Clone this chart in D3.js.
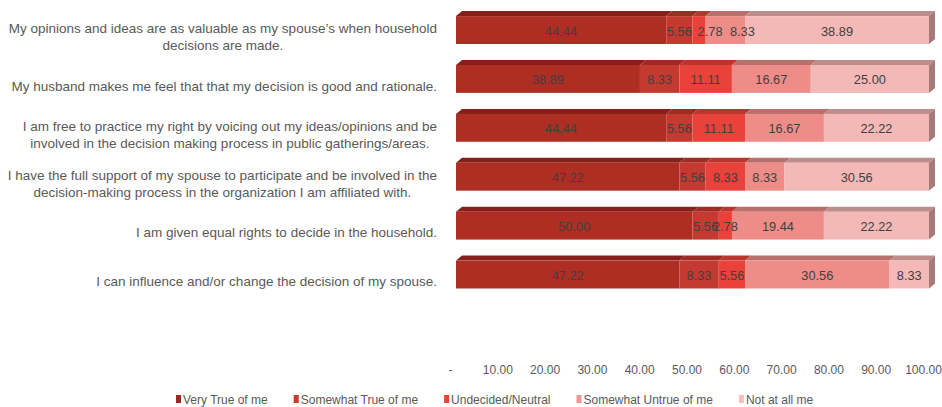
<!DOCTYPE html>
<html>
<head>
<meta charset="utf-8">
<script src="https://cdn.jsdelivr.net/npm/d3@7"></script>
<style>
  html, body { margin: 0; padding: 0; background: #fff; }
  svg { display: block; font-family: "Liberation Sans", Arial, sans-serif; }
</style>
</head>
<body>
<svg id="chart" width="942" height="407"></svg>
<script>
// Survey statements (each entry holds the wrapped lines of one label)
const categories = [
  ["My opinions and ideas are as valuable as my spouse\u2019s when household", "decisions are made."],
  ["My husband makes me feel that that my decision is good and rationale."],
  ["I am free to practice my right by voicing out my ideas/opinions and be", "involved in the decision making process in public gatherings/areas."],
  ["I have the full support of my spouse to participate and be involved in the", "decision-making process in the organization I am affiliated with."],
  ["I am given equal rights to decide in the household."],
  ["I can influence and/or change the decision of my spouse."]
];

// Response shares (%) per statement
const veryTrue       = [44.44, 38.89, 44.44, 47.22, 50.00, 47.22];
const somewhatTrue   = [ 5.56,  8.33,  5.56,  5.56,  5.56,  8.33];
const undecided      = [ 2.78, 11.11, 11.11,  8.33,  2.78,  5.56];
const somewhatUntrue = [ 8.33, 16.67, 16.67,  8.33, 19.44, 30.56];
const notAtAll       = [38.89, 25.00, 22.22, 30.56, 22.22,  8.33];

const seriesNames = ["Very True of me", "Somewhat True of me", "Undecided/Neutral", "Somewhat Untrue of me", "Not at all me"];
const tickValues = [0, 10, 20, 30, 40, 50, 60, 70, 80, 90, 100];

// Styling
const frontColors  = ["#ae2e24", "#c43a31", "#e8423a", "#ee8d88", "#f4b9b7"];
const topColors    = ["#87201b", "#9e2b24", "#bb342d", "#b96f6b", "#bd8d8b"];
const legendColors = ["#a32521", "#d0372d", "#f04237", "#f09590", "#f6bdbb"];
const sideColor = "#a57b79";
const DX = 6, DY = 5;              // 3D depth offset
const labelNudge = { "0-2": 11, "0-3": 17 };  // keeps narrow first-row labels apart

const svg = d3.select("#chart");

const seriesArrays = [veryTrue, somewhatTrue, undecided, somewhatUntrue, notAtAll];
const keys = seriesArrays.map((_, k) => "s" + k);
const rows = categories.map((c, i) => {
  const r = { idx: i };
  keys.forEach((k, j) => r[k] = seriesArrays[j][i]);
  return r;
});
const stacked = d3.stack().keys(keys)(rows);

const x = d3.scaleLinear().domain([0, 100]).range([456, 929]);
const y = d3.scaleBand().domain(d3.range(categories.length))
  .range([5.6, 299]).paddingInner(0.43).paddingOuter(0.215);
const bh = y.bandwidth();

// Bars: front face + top face per segment, side face at the end of each row
const barsG = svg.append("g");
categories.forEach((c, i) => {
  const g = barsG.append("g");
  const yt = y(i), yb = y(i) + bh;
  stacked.forEach((s, k) => {
    const d = s[i];
    const x0 = x(d[0]), x1 = x(d[1]);
    g.append("path")
      .attr("d", `M${x0},${yt}L${x1},${yt}L${x1 + DX},${yt - DY}L${x0 + DX},${yt - DY}Z`)
      .attr("fill", topColors[k]);
    g.append("rect")
      .attr("x", x0).attr("y", yt)
      .attr("width", x1 - x0).attr("height", bh)
      .attr("fill", frontColors[k]);
  });
  const xe = x(stacked[stacked.length - 1][i][1]);
  g.append("path")
    .attr("d", `M${xe},${yt}L${xe + DX},${yt - DY}L${xe + DX},${yb - DY}L${xe},${yb}Z`)
    .attr("fill", sideColor);
});

// Value labels centred on each segment's front face
const labelsG = svg.append("g")
  .attr("font-size", 12.8).attr("fill", "#404040").attr("text-anchor", "middle");
stacked.forEach((s, k) => {
  s.forEach((d, i) => {
    const cx = (x(d[0]) + x(d[1])) / 2 + (labelNudge[i + "-" + k] || 0);
    labelsG.append("text")
      .attr("x", cx).attr("y", y(i) + bh / 2 + 1)
      .attr("dy", "0.35em")
      .text(d3.format(".2f")(d[1] - d[0]));
  });
});

// Category labels, right-aligned block with centred lines
const catG = svg.append("g").attr("font-size", 13.5).attr("fill", "#595959");
const LINE = 17;
categories.forEach((lines, i) => {
  const cy = y(i) + bh / 2 + 7;
  const t = catG.append("text").attr("text-anchor", "middle");
  const tspans = lines.map((ln, j) =>
    t.append("tspan")
      .attr("y", cy + (j - (lines.length - 1) / 2) * LINE)
      .attr("dy", "0.35em")
      .text(ln));
  const maxW = d3.max(tspans, ts => ts.node().getComputedTextLength());
  tspans.forEach(ts => ts.attr("x", 437 - maxW / 2));
});

// Value axis (labels only)
const axis = d3.axisBottom(x)
  .tickValues(tickValues)
  .tickSize(0)
  .tickPadding(0)
  .tickFormat(v => v === 0 ? "-" : d3.format(".2f")(v));
const axG = svg.append("g").attr("transform", "translate(-6,365)").call(axis);
axG.select(".domain").remove();
axG.selectAll("text").attr("font-size", 12).attr("fill", "#595959")
  .attr("font-family", "\"Liberation Sans\", Arial, sans-serif");

// Legend
const legG = svg.append("g").attr("font-size", 12).attr("fill", "#595959");
let lx = 176;
seriesNames.forEach((name, k) => {
  legG.append("rect").attr("x", lx).attr("y", 395).attr("width", 5).attr("height", 8)
    .attr("fill", legendColors[k]);
  const tx = lx + 7;
  const t = legG.append("text").attr("x", tx).attr("y", 403.5).text(name);
  lx = tx + t.node().getComputedTextLength() + 26;
});
</script>
</body>
</html>
